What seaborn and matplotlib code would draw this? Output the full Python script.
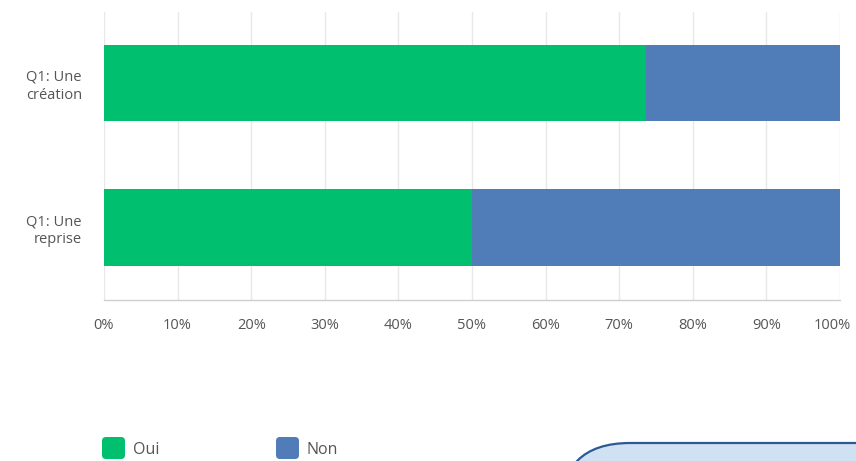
import matplotlib
matplotlib.use("Agg")
import matplotlib.pyplot as plt
from matplotlib.patches import FancyBboxPatch
from matplotlib.transforms import IdentityTransform, ScaledTranslation
from matplotlib.ticker import FuncFormatter
import seaborn as sns
import pandas as pd

# Survey responses (percent of answers)
categories = ["Q1: Une\ncréation", "Q1: Une\nreprise"]
oui = [73.7, 50.0]
non = [26.3, 50.0]
series_names = ["Oui", "Non"]
colors = ["#00bf6f", "#507cb7"]
xticks = [0, 10, 20, 30, 40, 50, 60, 70, 80, 90, 100]

sns.set_theme(style="white")
plt.rcParams["font.family"] = ["Open Sans", "DejaVu Sans"]

df = pd.DataFrame({"cat": categories, "oui": oui, "non": non})
df["total"] = df["oui"] + df["non"]

W, H = 856, 461
fig = plt.figure(figsize=(W / 100, H / 100), dpi=100)
ax = fig.add_axes([104 / W, 1 - 300 / H, (840 - 104) / W, (300 - 12) / H])

# Stacked bars: full length in blue, "Oui" share on top in green
sns.barplot(data=df, y="cat", x="total", color=colors[1], orient="h",
            width=0.53, saturation=1, linewidth=0, ax=ax, zorder=2)
sns.barplot(data=df, y="cat", x="oui", color=colors[0], orient="h",
            width=0.53, saturation=1, linewidth=0, ax=ax, zorder=3)

ax.set_xlim(0, 100)
ax.set_ylim(1.5, -0.49)
ax.set_xticks(xticks)
ax.xaxis.set_major_formatter(FuncFormatter(lambda v, p: f"{v:.0f}%"))
ax.set_xlabel("")
ax.set_ylabel("")
ax.grid(axis="x", color="#e8e8e8", linewidth=1, zorder=0)
ax.grid(axis="y", visible=False)
for s in ["top", "right", "left"]:
    ax.spines[s].set_visible(False)
ax.spines["bottom"].set_color("#cfcfcf")
ax.spines["bottom"].set_linewidth(1)
ax.tick_params(axis="x", length=0, pad=13, labelsize=10.5, labelcolor="#555555")
ax.tick_params(axis="y", length=0, pad=16, labelsize=10.5, labelcolor="#555555")
for lbl in ax.get_yticklabels():
    lbl.set_horizontalalignment("right")
    lbl.set_multialignment("right")
    lbl.set_linespacing(1.25)

# Keep the "100%" label inside the canvas
fig.canvas.draw()
last = ax.get_xticklabels()[-1]
last.set_transform(last.get_transform() + ScaledTranslation(-8 / 100, 0, fig.dpi_scale_trans))

# Legend with rounded colour swatches
ident = IdentityTransform()
for name, col, x0 in zip(series_names, colors, [102, 276]):
    sw = FancyBboxPatch((x0, H - 459), 23, 22,
                        boxstyle="round,pad=0,rounding_size=4",
                        transform=ident, facecolor=col, edgecolor="none")
    fig.patches.append(sw)
    fig.text((x0 + 31) / W, 1 - 450 / H, name, fontsize=11.5,
             color="#555555", va="center", ha="left")

# Rounded info panel in the lower right corner
panel = FancyBboxPatch((560, -150), 400, 168,
                       boxstyle="round,pad=0,rounding_size=70",
                       transform=ident, facecolor="#d0e1f3",
                       edgecolor="#2b5a92", linewidth=1.6)
fig.patches.append(panel)

fig.savefig("out.png", dpi=100)
